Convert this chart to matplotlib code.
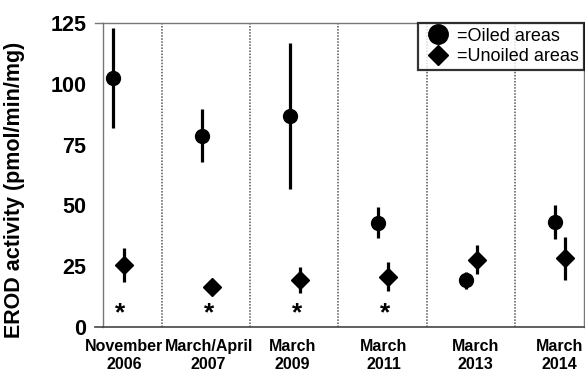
import numpy as np
import matplotlib
matplotlib.use("Agg")
import matplotlib.pyplot as plt
from matplotlib.lines import Line2D

plt.rcParams['font.family'] = ['Liberation Sans', 'DejaVu Sans']

# sampling campaigns
periods = ["November\n2006", "March/April\n2007", "March\n2009",
           "March\n2011", "March\n2013", "March\n2014"]

# EROD activity (pmol/min/mg), mean and error
oiled_mean = [102.3, 78.7, 86.8, 42.9, 19.3, 43.3]
oiled_err = [20.5, 11.0, 30.0, 6.5, 3.5, 7.0]
unoiled_mean = [25.5, 16.3, 19.3, 20.7, 27.6, 28.2]
unoiled_err = [7.0, 0.0, 5.5, 6.0, 6.0, 9.0]

# periods with a significant oiled/unoiled difference
significant = [True, True, True, True, False, False]
star_level = 5.5

x = np.arange(1, len(periods) + 1)

fig = plt.figure(figsize=(5.85, 3.71), dpi=100)
ax = fig.add_axes([0.176, 0.1186, 0.822, 0.8194])

ax.errorbar(x - 0.05, oiled_mean, yerr=oiled_err, fmt='o', color='black',
            ms=10, elinewidth=2.3, capsize=0, zorder=3)
ax.errorbar(x + 0.065, unoiled_mean, yerr=unoiled_err, fmt='D', color='black',
            ms=9.5, elinewidth=2.3, capsize=0, zorder=3)

for xi, sig in zip(x, significant):
    if sig:
        ax.text(xi + 0.03, star_level, "*", ha='center', va='center',
                fontsize=19, fontweight='bold')

# dotted separators between campaigns
for xs in x[:-1] + 0.5:
    ax.axvline(xs, color='#555555', ls=(0, (1, 1)), lw=1.1, zorder=1)

ax.set_xlim(0.832, 6.28)
ax.set_ylim(0, 125)
ax.set_yticks([0, 25, 50, 75, 100, 125])
ax.tick_params(axis='y', length=0, pad=12, labelsize=15.5)
for lab in ax.get_yticklabels():
    lab.set_fontweight('bold')

label_pos = x + np.array([0.07, 0.03, -0.02, 0.01, 0.05, 0.0])
ax.set_xticks(label_pos)
ax.set_xticklabels(periods, fontsize=11.5, fontweight='bold', linespacing=1.25)
ax.tick_params(axis='x', length=0, pad=9)

ax.set_ylabel("EROD activity (pmol/min/mg)", fontsize=15.5, fontweight='bold')
ax.yaxis.set_label_coords(-0.163, 0.45)

for side in ['left', 'right', 'top']:
    ax.spines[side].set_color('#777777')
    ax.spines[side].set_linewidth(1.0)
ax.spines['bottom'].set_color('#444444')
ax.spines['bottom'].set_linewidth(1.2)

# short extensions of the 0 and 125 lines past the y axis
ax.plot([-0.017, 0], [0, 0], transform=ax.transAxes, color='#444444',
        lw=1.2, clip_on=False)
ax.plot([-0.017, 0], [1, 1], transform=ax.transAxes, color='#777777',
        lw=1.0, clip_on=False)

handles = [Line2D([], [], marker='o', color='black', ls='none', ms=14),
           Line2D([], [], marker='D', color='black', ls='none', ms=10)]
leg = ax.legend(handles, ["=Oiled areas", "=Unoiled areas"], loc='upper right',
                bbox_to_anchor=(1.0, 1.0), borderaxespad=0, fontsize=13,
                frameon=True, fancybox=False, handletextpad=0.15,
                labelspacing=0.2, borderpad=0.25, handlelength=1.8)
leg.get_frame().set_edgecolor('black')
leg.get_frame().set_linewidth(1.6)
leg.set_zorder(5)

fig.savefig("out.png", dpi=100)
